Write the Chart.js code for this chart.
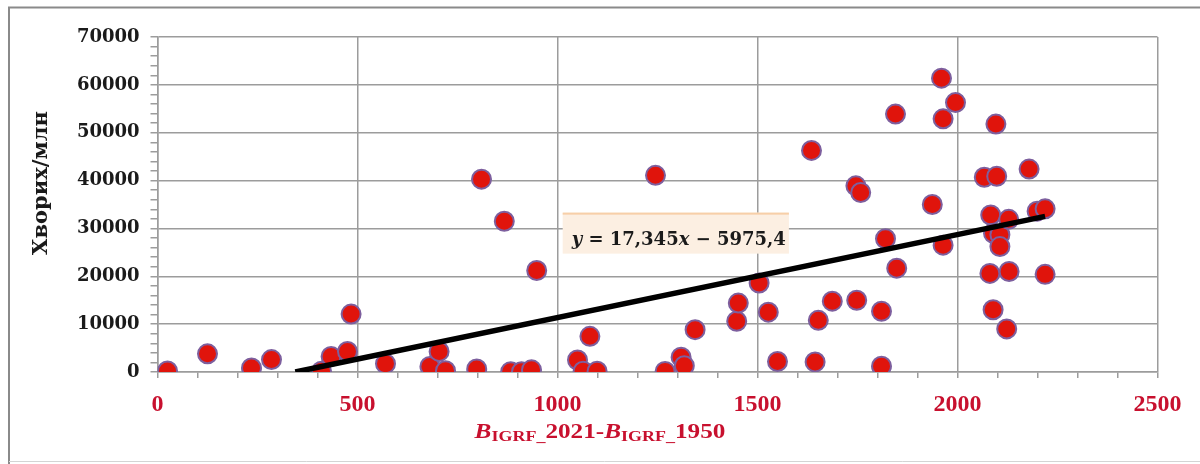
<!DOCTYPE html>
<html>
<head>
<meta charset="utf-8">
<script src="https://cdn.jsdelivr.net/npm/chart.js"></script>
<style>
  html, body { margin: 0; padding: 0; background: #fff; }
  #wrap { width: 1200px; height: 464px; }
</style>
</head>
<body>
<div id="wrap"><canvas id="chart" width="1200" height="464"></canvas></div>
<script>
// values
const xValues = [
  25, 125, 235, 285, 410, 434, 475, 484, 570,
  681, 704, 720, 798, 810, 867, 883, 910, 935, 948,
  1050, 1064, 1081, 1099, 1245, 1269, 1309, 1317, 1344,
  1448, 1452, 1504, 1527, 1550,
  1635, 1644, 1652, 1687, 1746, 1758, 1748, 1810, 1810, 1820, 1845, 1848,
  1937, 1960, 1964, 1964, 1995,
  2067, 2098, 2096, 2081, 2083, 2089, 2090, 2106, 2106, 2128, 2129, 2123,
  2179, 2199, 2219, 2219
];
const yValues = [
  200, 3800, 850, 2600, 150, 3250, 4300, 12100, 1750,
  1150, 4300, 280, 620, 40300, 31500, 50, 50, 450, 21200,
  2500, 150, 7450, 150, 41100, 130, 3100, 1300, 8850,
  10600, 14400, 18600, 12500, 2200,
  46300, 2100, 10800, 14800, 38900, 37500, 15000, 12700, 1200, 27850, 53900, 21700,
  35000, 61400, 52900, 26500, 56300,
  40700, 40900, 51800, 20600, 32800, 13000, 29000, 28700, 26200, 31900, 21000, 9000,
  42400, 33600, 34100, 20400
];

// linear trend shown on the chart
const trendSlope = 17.345;
const trendIntercept = -5975.4;
const trendLabel = [['y', true], [' = 17,345', false], ['x', true], [' \u2212 5975,4', false]];

const xTickLabels = [0, 500, 1000, 1500, 2000, 2500];
const yTickLabels = [0, 10000, 20000, 30000, 40000, 50000, 60000, 70000];
const yTitle = 'Хворих/млн';
const xTitle = [['B', 'main-i'], ['IGRF_', 'sub'], ['2021-', 'main'], ['B', 'main-i'], ['IGRF_', 'sub'], ['1950', 'main']];

const points = xValues.map((x, i) => ({ x: x, y: yValues[i] }));
const trendStart = -trendIntercept / trendSlope;
const trendEnd = Math.max(...xValues);
const trendPoints = [trendStart, trendEnd].map(x => ({ x: x, y: trendSlope * x + trendIntercept }));

const GRID = '#9c9c9c';
const RED = '#c8102e';

const decorations = {
  id: 'decorations',
  beforeDraw(chart) {
    const ctx = chart.ctx;
    ctx.save();
    ctx.fillStyle = '#fff';
    ctx.fillRect(0, 0, chart.width, chart.height);
    ctx.strokeStyle = '#8a8a8a';
    ctx.lineWidth = 2;
    ctx.beginPath();
    ctx.moveTo(9, chart.height);
    ctx.lineTo(9, 7.5);
    ctx.lineTo(chart.width, 7.5);
    ctx.stroke();
    ctx.strokeStyle = '#d4d4d4';
    ctx.lineWidth = 1;
    ctx.beginPath();
    ctx.moveTo(9, 461.5);
    ctx.lineTo(chart.width, 461.5);
    ctx.stroke();
    ctx.restore();
  },
  afterDraw(chart) {
    const ctx = chart.ctx;
    const xs = chart.scales.x, ys = chart.scales.y;
    ctx.save();

    // y axis title
    ctx.translate(42, 183);
    ctx.rotate(-Math.PI / 2);
    ctx.font = 'bold 21px "DejaVu Serif"';
    ctx.fillStyle = '#1a1a1a';
    ctx.textAlign = 'center';
    ctx.textBaseline = 'middle';
    ctx.fillText(yTitle, 0, 0);
    ctx.setTransform(1, 0, 0, 1, 0, 0);

    // x axis title with subscripts
    const fonts = {
      'main': 'bold 21px "Liberation Serif"',
      'main-i': 'italic bold 21px "Liberation Serif"',
      'sub': 'bold 15px "Liberation Serif"'
    };
    ctx.textAlign = 'left';
    ctx.textBaseline = 'alphabetic';
    let total = 0;
    xTitle.forEach(([t, f]) => { ctx.font = fonts[f]; total += ctx.measureText(t).width; });
    const sx = 1.2;
    let tx = 600 - total * sx / 2;
    ctx.fillStyle = RED;
    xTitle.forEach(([t, f]) => {
      ctx.font = fonts[f];
      const w = ctx.measureText(t).width;
      ctx.save();
      ctx.translate(tx, f === 'sub' ? 441 : 438);
      ctx.scale(sx, 1);
      ctx.fillText(t, 0, 0);
      ctx.restore();
      tx += w * sx;
    });

    // trend equation box
    const bx = xs.getPixelForValue(1013);
    const by = ys.getPixelForValue(33300);
    let tw = 0;
    trendLabel.forEach(([t, it]) => {
      ctx.font = (it ? 'italic ' : '') + 'bold 18px "DejaVu Serif"';
      tw += ctx.measureText(t).width;
    });
    const bw = tw + 12, bh = 41;
    ctx.fillStyle = '#fcefe2';
    ctx.fillRect(bx, by, bw, bh);
    ctx.fillStyle = '#f7cfa8';
    ctx.fillRect(bx, by, bw, 2);
    ctx.fillStyle = '#1a1a1a';
    let ex = bx + 9;
    trendLabel.forEach(([t, it]) => {
      ctx.font = (it ? 'italic ' : '') + 'bold 18px "DejaVu Serif"';
      ctx.fillText(t, ex, by + 32);
      ex += ctx.measureText(t).width;
    });
    ctx.restore();
  }
};

new Chart(document.getElementById('chart'), {
  type: 'scatter',
  data: {
    datasets: [
      {
        type: 'line',
        data: trendPoints,
        borderColor: '#000',
        borderWidth: 5.5,
        pointRadius: 0,
        fill: false,
        order: 0
      },
      {
        data: points,
        backgroundColor: '#e0140c',
        borderColor: '#7d5f9e',
        borderWidth: 2,
        pointRadius: 9.5,
        order: 1
      }
    ]
  },
  options: {
    responsive: false,
    animation: false,
    layout: { padding: { left: 0, top: 37, right: 42.5, bottom: 0 } },
    plugins: {
      legend: { display: false },
      tooltip: { enabled: false }
    },
    scales: {
      x: {
        type: 'linear',
        min: 0,
        max: 2500,
        afterFit(scale) { scale.height = 92; },
        border: { color: GRID, width: 1.5 },
        grid: {
          color: c => xTickLabels.includes(c.tick.value) ? GRID : 'rgba(0,0,0,0)',
          lineWidth: 1.5,
          tickColor: GRID,
          tickLength: 6
        },
        ticks: {
          stepSize: 100,
          autoSkip: false,
          maxRotation: 0,
          padding: 12,
          color: RED,
          font: { family: 'Liberation Serif', weight: 'bold', size: 24 },
          callback: v => xTickLabels.includes(v) ? String(v) : ''
        }
      },
      y: {
        type: 'linear',
        min: 0,
        max: 70000,
        afterFit(scale) { scale.width = 157.5; },
        border: { color: GRID, width: 1.5 },
        grid: {
          color: c => yTickLabels.includes(c.tick.value) ? GRID : 'rgba(0,0,0,0)',
          lineWidth: 1.5,
          tickColor: GRID,
          tickLength: 7
        },
        ticks: {
          stepSize: 2000,
          autoSkip: false,
          padding: 11,
          color: '#1a1a1a',
          font: { family: 'DejaVu Serif', weight: 'bold', size: 18 },
          callback: v => yTickLabels.includes(v) ? String(v) : ''
        }
      }
    }
  },
  plugins: [decorations]
});
</script>
</body>
</html>
